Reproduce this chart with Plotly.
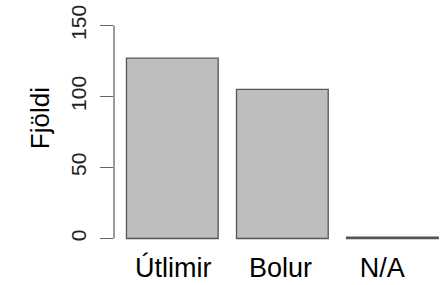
import plotly.graph_objects as go

categories = ["Útlimir", "Bolur", "N/A"]
values = [127, 105, 1]
y_ticks = [0, 50, 100, 150]
y_title = "Fjöldi"

# layout constants
bar_width = 1.0
space = 0.2
label_nudge = [0.01, -0.02, -0.11]   # small horizontal label offsets (axis units)

centers = [space + bar_width / 2 + i * (bar_width + space) for i in range(len(categories))]
label_pos = [c + d for c, d in zip(centers, label_nudge)]

fig = go.Figure()
fig.add_trace(go.Bar(
    x=centers, y=values, width=bar_width,
    marker=dict(color="#bebebe", line=dict(color="#555555", width=1.3)),
    hoverinfo="skip",
))

font = "Liberation Sans, Arial, sans-serif"
fig.update_layout(
    width=445, height=285,
    margin=dict(l=114, r=0, t=17, b=38, autoexpand=False),
    plot_bgcolor="white", paper_bgcolor="white",
    showlegend=False,
    font=dict(family=font, color="black"),
    bargap=0,
)
fig.update_xaxes(
    range=[0.064, 0.064 + 331 / 91.7],
    tickmode="array", tickvals=label_pos, ticktext=categories,
    ticks="outside", ticklen=1, tickcolor="rgba(0,0,0,0)",
    ticklabelstandoff=-4, ticklabeloverflow="allow",
    tickfont=dict(size=27, family=font, color="black"),
    showgrid=False, zeroline=False, showline=False,
)
fig.update_yaxes(
    range=[-6, 156],
    tickmode="array", tickvals=y_ticks, ticktext=[str(v) for v in y_ticks],
    ticks="outside", ticklen=13, tickcolor="#666666", tickwidth=1.3,
    tickangle=-90, ticklabelstandoff=6, ticklabeloverflow="allow",
    tickfont=dict(size=21, family=font, color="#222222"),
    showgrid=False, zeroline=False, showline=False,
)
fig.add_shape(type="line", xref="paper", yref="y", x0=0, x1=0, y0=0, y1=150,
              line=dict(color="#666666", width=1.3))
fig.add_annotation(
    text=y_title, textangle=-90, showarrow=False,
    xref="paper", yref="paper", x=0, y=0.56, xanchor="center", yanchor="middle",
    xshift=-74, font=dict(size=26, family=font, color="black"),
)

fig.write_html(
    "out.html",
    config={"displayModeBar": False, "staticPlot": True},
    post_script="document.body.style.margin='0';document.body.style.overflow='hidden';",
)
